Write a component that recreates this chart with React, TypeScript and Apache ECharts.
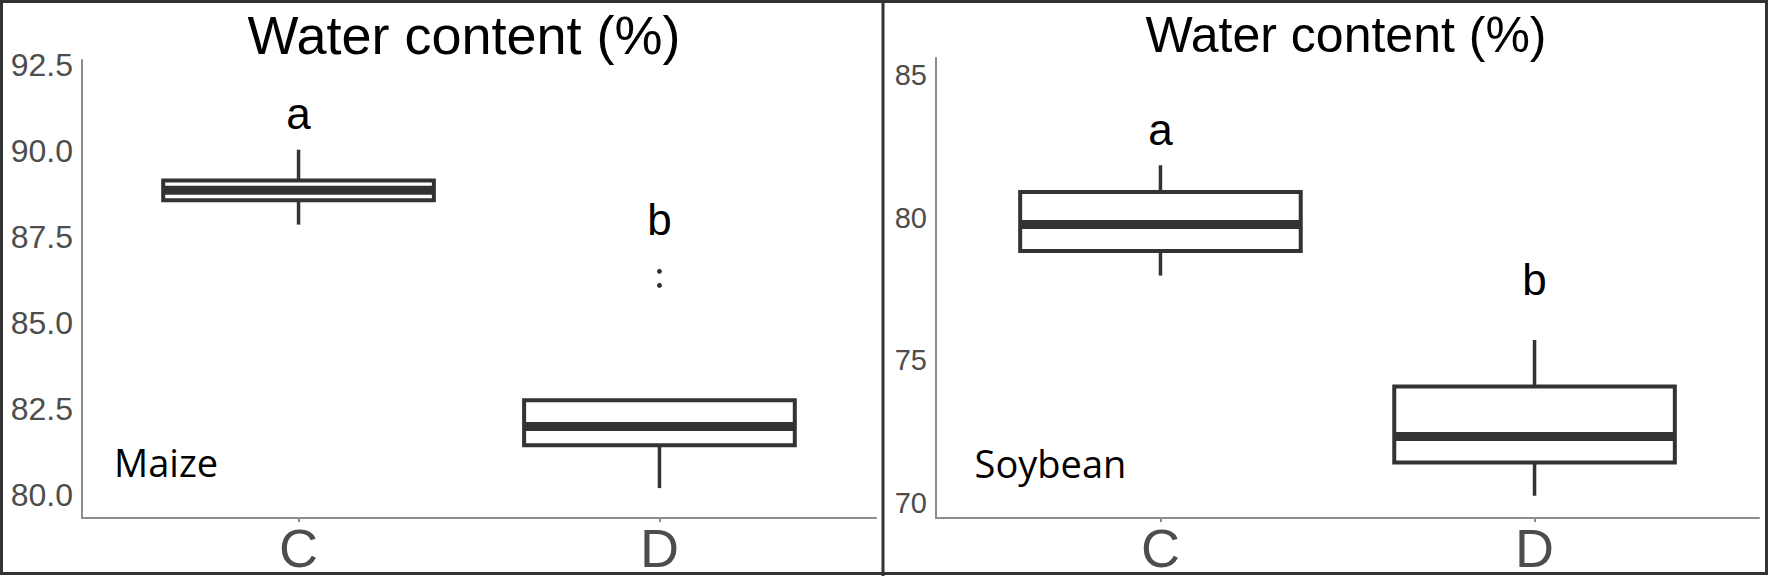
import React, { useEffect, useRef } from 'react';
import * as echarts from 'echarts';

const categories = ['C', 'D'];
// [low whisker, Q1, median, Q3, high whisker]
const maizeBox = [
  [87.87, 88.58, 88.87, 89.15, 90.05],
  [80.2, 81.45, 81.99, 82.76, 82.76],
];
const maizeOutliers = [
  [1, 86.51],
  [1, 86.1],
];
const soyBox = [
  [77.97, 78.83, 79.76, 80.9, 81.84],
  [70.25, 71.42, 72.33, 74.08, 75.71],
];
const maizeTicks = [80, 82.5, 85, 87.5, 90, 92.5];
const soyTicks = [70, 75, 80, 85];
const maizeLetters = ['a', 'b'];
const maizeLetterY = [91.1, 88.02];
const soyLetters = ['a', 'b'];
const soyLetterY = [83.1, 77.83];
const titleText = 'Water content (%)';
const cropNames = ['Maize', 'Soybean'];
const cropNamePos = [
  [-0.367, 80.96],
  [-0.294, 71.4],
];

const INK = '#333333';
const AXIS = '#8c8c8c';
const TICKTXT = '#4d4d4d';
const SANS = 'Liberation Sans, Arial, sans-serif';
const NOTE = 'Open Sans, sans-serif';

const boxRender = (params: any, api: any) => {
  const x = api.value(0);
  const low = api.value(1);
  const q1 = api.value(2);
  const med = api.value(3);
  const q3 = api.value(4);
  const high = api.value(5);
  const half = api.size([0.75, 0])[0] / 2;
  const pHigh = api.coord([x, high]);
  const pQ3 = api.coord([x, q3]);
  const pMed = api.coord([x, med]);
  const pQ1 = api.coord([x, q1]);
  const pLow = api.coord([x, low]);
  const cx = pMed[0];
  const children: any[] = [];
  if (pQ3[1] - pHigh[1] > 0.5) {
    children.push({
      type: 'line',
      shape: { x1: cx, y1: pHigh[1], x2: cx, y2: pQ3[1] },
      style: { stroke: INK, lineWidth: 3.5 },
    });
  }
  if (pLow[1] - pQ1[1] > 0.5) {
    children.push({
      type: 'line',
      shape: { x1: cx, y1: pQ1[1], x2: cx, y2: pLow[1] },
      style: { stroke: INK, lineWidth: 3.5 },
    });
  }
  children.push({
    type: 'rect',
    shape: { x: cx - half, y: pQ3[1], width: 2 * half, height: pQ1[1] - pQ3[1] },
    style: { fill: '#ffffff', stroke: INK, lineWidth: 4 },
  });
  children.push({
    type: 'line',
    shape: { x1: cx - half, y1: pMed[1], x2: cx + half, y2: pMed[1] },
    style: { stroke: INK, lineWidth: 9 },
  });
  return { type: 'group', children };
};

const makeTextRender = (texts: string[], fontSize: number, family: string) => (params: any, api: any) => {
  const p = api.coord([api.value(0), api.value(1)]);
  return {
    type: 'text',
    x: p[0],
    y: p[1],
    style: {
      text: texts[params.dataIndex],
      fill: '#000000',
      fontSize,
      fontFamily: family,
      align: 'center',
      verticalAlign: 'middle',
    },
  };
};

const xAxisFor = (gridIndex: number) => ({
  type: 'value',
  gridIndex,
  min: -0.6,
  max: 1.6,
  splitLine: { show: false },
  axisLine: { show: true, onZero: false, lineStyle: { color: AXIS, width: 2 } },
  axisTick: { show: true, customValues: [0, 1], length: 4, lineStyle: { color: AXIS, width: 2 } },
  axisLabel: {
    show: true,
    customValues: [0, 1],
    formatter: (v: number) => categories[Math.round(v)],
    color: TICKTXT,
    fontSize: 54,
    lineHeight: 44,
    fontFamily: SANS,
    margin: 8,
  },
});

const yAxisFor = (gridIndex: number, min: number, max: number, ticks: number[], fontSize: number, digits: number) => ({
  type: 'value',
  gridIndex,
  min,
  max,
  splitLine: { show: false },
  axisLine: { show: true, onZero: false, lineStyle: { color: AXIS, width: 2 } },
  axisTick: { show: false, customValues: ticks },
  axisLabel: {
    show: true,
    customValues: ticks,
    formatter: (v: number) => v.toFixed(digits),
    color: TICKTXT,
    fontSize,
    fontFamily: SANS,
    margin: 9,
  },
});

export default function App() {
  const ref = useRef<HTMLDivElement>(null);
  useEffect(() => {
    if (!ref.current) return;
    const chart = echarts.init(ref.current, undefined, { renderer: 'svg' });
    const option: any = {
      animation: false,
      backgroundColor: '#ffffff',
      grid: [
        { left: 82, top: 60, width: 794, height: 458, containLabel: false },
        { left: 936, top: 58, width: 823, height: 460, containLabel: false },
      ],
      xAxis: [xAxisFor(0), xAxisFor(1)],
      yAxis: [
        yAxisFor(0, 79.33, 92.66, maizeTicks, 32, 1),
        yAxisFor(1, 69.47, 85.6, soyTicks, 29, 0),
      ],
      series: [
        {
          type: 'custom',
          xAxisIndex: 0,
          yAxisIndex: 0,
          renderItem: boxRender,
          clip: false,
          encode: { x: 0, y: [1, 2, 3, 4, 5] },
          data: maizeBox.map((b, i) => [i, ...b]),
        },
        {
          type: 'scatter',
          xAxisIndex: 0,
          yAxisIndex: 0,
          symbolSize: 5,
          itemStyle: { color: '#000000' },
          data: maizeOutliers,
        },
        {
          type: 'custom',
          xAxisIndex: 1,
          yAxisIndex: 1,
          renderItem: boxRender,
          clip: false,
          encode: { x: 0, y: [1, 2, 3, 4, 5] },
          data: soyBox.map((b, i) => [i, ...b]),
        },
        {
          type: 'custom',
          xAxisIndex: 0,
          yAxisIndex: 0,
          renderItem: makeTextRender(maizeLetters, 44, SANS),
          clip: false,
          data: maizeLetterY.map((y, i) => [i, y]),
        },
        {
          type: 'custom',
          xAxisIndex: 1,
          yAxisIndex: 1,
          renderItem: makeTextRender(soyLetters, 44, SANS),
          clip: false,
          data: soyLetterY.map((y, i) => [i, y]),
        },
        {
          type: 'custom',
          xAxisIndex: 0,
          yAxisIndex: 0,
          renderItem: makeTextRender([cropNames[0]], 38, NOTE),
          clip: false,
          data: [cropNamePos[0]],
        },
        {
          type: 'custom',
          xAxisIndex: 1,
          yAxisIndex: 1,
          renderItem: makeTextRender([cropNames[1]], 38, NOTE),
          clip: false,
          data: [cropNamePos[1]],
        },
      ],
      graphic: [
        {
          type: 'text',
          x: 464,
          y: 35,
          style: {
            text: titleText,
            fontSize: 54,
            fontFamily: SANS,
            fill: '#000000',
            align: 'center',
            verticalAlign: 'middle',
          },
        },
        {
          type: 'text',
          x: 1346,
          y: 35,
          style: {
            text: titleText,
            fontSize: 50,
            fontFamily: SANS,
            fill: '#000000',
            align: 'center',
            verticalAlign: 'middle',
          },
        },
        {
          type: 'rect',
          shape: { x: 1.5, y: 1.5, width: 1765, height: 572 },
          style: { fill: 'none', stroke: INK, lineWidth: 3 },
          silent: true,
        },
        {
          type: 'line',
          shape: { x1: 883, y1: 0, x2: 883, y2: 576 },
          style: { stroke: INK, lineWidth: 3 },
          silent: true,
        },
      ],
    };
    chart.setOption(option);
    return () => chart.dispose();
  }, []);
  return (
    <div
      ref={ref}
      style={{ position: 'fixed', left: 0, top: 0, width: 1772, height: 578, background: '#ffffff' }}
    />
  );
}
